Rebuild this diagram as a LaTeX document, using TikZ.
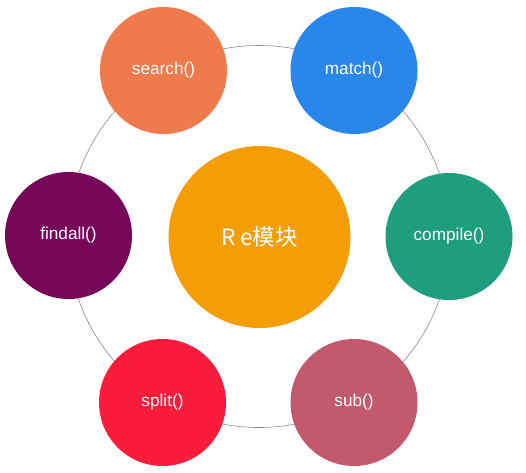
\documentclass[tikz,border=0pt]{standalone}
\usepackage{fontspec}
\setmainfont{Liberation Sans}
\newfontfamily\cjk{Noto Sans CJK SC}
\definecolor{cSearch}{HTML}{EF7B4C}
\definecolor{cMatch}{HTML}{2986EA}
\definecolor{cCompile}{HTML}{1F9E7E}
\definecolor{cSub}{HTML}{C3596D}
\definecolor{cSplit}{HTML}{FB1B3B}
\definecolor{cFindall}{HTML}{770859}
\definecolor{cCenter}{HTML}{F59D04}
\definecolor{ringgray}{HTML}{8A8A8A}
\tikzset{
  fn/.style={circle, inner sep=0pt, minimum size=127pt, text=white,
    font=\fontsize{17.2}{20}\selectfont},
  hub/.style={circle, inner sep=0pt, minimum size=182pt, text=white,
    font=\cjk\fontsize{22.5}{26}\selectfont},
  ring/.style={draw=ringgray, line width=0.6pt}
}
\begin{document}
\begin{tikzpicture}[x=1pt,y=-1pt]
\useasboundingbox (0,0) rectangle (526,472);
\coordinate (o) at (259,236.5);
\draw[ring] (o) circle (191pt);
\node[hub, fill=cCenter] (re) at (259.5,237) {R e模块};
\node[fn, fill=cSearch] (search) at (163.5,70.5) {search()};
\node[fn, fill=cMatch] (match) at (354,70.5) {match()};
\node[fn, fill=cCompile] (compile) at (449,236.5) {compile()};
\node[fn, fill=cSub] (sub) at (354,402.5) {sub()};
\node[fn, fill=cSplit] (split) at (162.5,402.5) {split()};
\node[fn, fill=cFindall] (findall) at (68.5,235.5) {findall()};
\end{tikzpicture}
\end{document}
